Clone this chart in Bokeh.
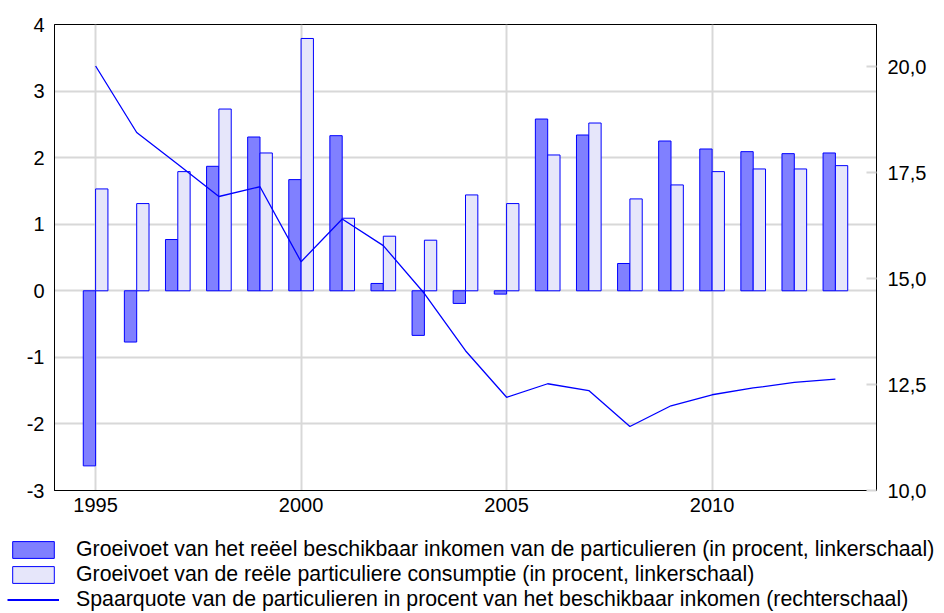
from bokeh.plotting import figure
from bokeh.layouts import column
from bokeh.models import (Range1d, LinearAxis, FixedTicker, CustomJSTickFormatter,
                          Legend, LegendItem, ColumnDataSource)
from bokeh.transform import dodge
from bokeh.embed import file_html
from bokeh.resources import INLINE

years = list(range(1995, 2014))
income = [-2.63, -0.77, 0.77, 1.87, 2.31, 1.67, 2.33, 0.11, -0.67, -0.19, -0.05,
          2.58, 2.34, 0.41, 2.25, 2.13, 2.09, 2.06, 2.07]
consumption = [1.53, 1.31, 1.79, 2.73, 2.07, 3.79, 1.09, 0.82, 0.76, 1.44, 1.31,
               2.04, 2.52, 1.38, 1.59, 1.79, 1.83, 1.83, 1.88]
saving = [20.02, 18.45, 17.70, 16.94, 17.17, 15.40, 16.41, 15.78, 14.65, 13.30, 12.20,
          12.52, 12.36, 11.51, 12.00, 12.26, 12.42, 12.55, 12.63]

x_ticks = [1995, 2000, 2005, 2010]
left_ticks = [-3, -2, -1, 0, 1, 2, 3, 4]
right_ticks = [10, 12.5, 15, 17.5, 20]

labels = [
    "Groeivoet van het reëel beschikbaar inkomen van de particulieren (in procent, linkerschaal)",
    "Groeivoet van de reële particuliere consumptie (in procent, linkerschaal)",
    "Spaarquote van de particulieren in procent van het beschikbaar inkomen (rechterschaal)",
]

FONT = "Liberation Sans"
GRID = "#d8d8d8"
DARK = "#8080ff"
LIGHT = "#e6e6fa"
BLUE = "#0000ff"

src = ColumnDataSource(dict(year=years, income=income, consumption=consumption, saving=saving))

p = figure(width=944, height=530, x_range=Range1d(1994, 2014), y_range=Range1d(-3, 4),
           output_backend="svg", toolbar_location=None,
           min_border_left=54, min_border_right=68, min_border_top=24, min_border_bottom=40)
p.extra_y_ranges = {"right": Range1d(10, 21)}

p.outline_line_color = "black"
p.outline_line_width = 1
p.background_fill_color = "white"

p.vbar(x=dodge("year", -0.15, range=p.x_range), top="income", bottom=0, width=0.3,
       source=src, fill_color=DARK, line_color=BLUE, line_width=1)
p.vbar(x=dodge("year", 0.15, range=p.x_range), top="consumption", bottom=0, width=0.3,
       source=src, fill_color=LIGHT, line_color=BLUE, line_width=1)
p.line(x="year", y="saving", source=src, y_range_name="right",
       line_color=BLUE, line_width=1.3)

# axes
xa = p.xaxis[0]
xa.ticker = FixedTicker(ticks=x_ticks)
xa.major_label_standoff = 7
ya = p.yaxis[0]
ya.ticker = FixedTicker(ticks=left_ticks)
ya.formatter = CustomJSTickFormatter(code="return String(tick);")
ya.major_label_standoff = 10
ya.major_label_text_baseline = "alphabetic"
for ax in (xa, ya):
    ax.major_tick_line_color = None
    ax.major_tick_in = 0
    ax.major_tick_out = 0
    ax.minor_tick_line_color = None
    ax.minor_tick_in = 0
    ax.minor_tick_out = 0
    ax.axis_line_color = "black"
    ax.major_label_text_font = FONT
    ax.major_label_text_font_size = "20px"
    ax.major_label_text_color = "black"

ra = LinearAxis(y_range_name="right", ticker=FixedTicker(ticks=right_ticks),
                formatter=CustomJSTickFormatter(code="return tick.toFixed(1).replace('.', ',');"))
ra.major_tick_in = 10
ra.major_tick_out = 0
ra.major_tick_line_color = GRID
ra.major_tick_line_width = 2
ra.minor_tick_line_color = None
ra.minor_tick_in = 0
ra.minor_tick_out = 0
ra.axis_line_color = "black"
ra.major_label_text_font = FONT
ra.major_label_text_font_size = "20px"
ra.major_label_text_color = "black"
ra.major_label_text_baseline = "alphabetic"
ra.major_label_standoff = 11
p.add_layout(ra, "right")

p.xgrid.ticker = FixedTicker(ticks=x_ticks)
p.ygrid.ticker = FixedTicker(ticks=left_ticks)
for g in (p.xgrid[0], p.ygrid[0]):
    g.grid_line_color = GRID
    g.grid_line_width = 2

# legend panel: separate figure below the chart; its proxy glyphs use the same
# data but fall outside this panel's ranges, so only the legend is seen
lg = figure(width=944, height=83, x_range=Range1d(0, 1), y_range=Range1d(0, 1),
            output_backend="svg", toolbar_location=None,
            min_border_left=0, min_border_right=0, min_border_top=0, min_border_bottom=0)
lg.frame_align = False
lg.axis.visible = False
lg.grid.visible = False
lg.outline_line_color = None
e1 = lg.vbar(x="year", top="income", width=0.3, source=src,
             fill_color=DARK, line_color=BLUE, line_width=1)
e2 = lg.vbar(x="year", top="consumption", width=0.3, source=src,
             fill_color=LIGHT, line_color=BLUE, line_width=1)
e3 = lg.line(x="year", y="saving", source=src, line_color=BLUE, line_width=2)

legend = Legend(items=[LegendItem(label=labels[0], renderers=[e1]),
                       LegendItem(label=labels[1], renderers=[e2]),
                       LegendItem(label=labels[2], renderers=[e3])],
                location=(7, 1), orientation="vertical",
                glyph_width=52, glyph_height=21, label_height=21,
                label_text_font=FONT, label_text_font_size="21.3px",
                label_text_color="black",
                label_standoff=17, spacing=0, padding=0, margin=0,
                border_line_color=None, background_fill_alpha=0)
lg.add_layout(legend, "center")

layout = column(p, lg, spacing=0)
open("out.html", "w").write(file_html(layout, INLINE))
